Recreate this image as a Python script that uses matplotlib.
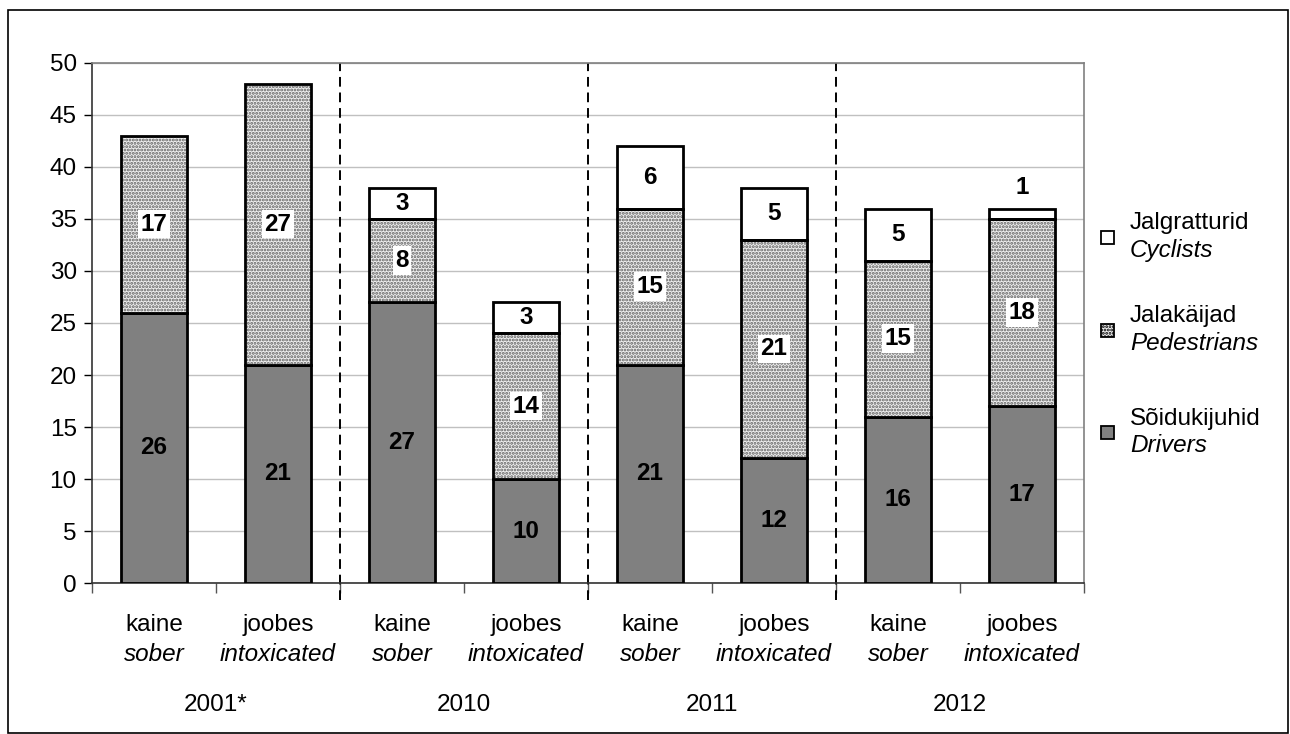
import matplotlib.pyplot as plt
from matplotlib.patches import Rectangle
import numpy as np

plt.rcParams['font.family'] = ['Liberation Sans', 'DejaVu Sans']
plt.rcParams['hatch.linewidth'] = 1.4

# dati
state_et = ['kaine', 'joobes', 'kaine', 'joobes', 'kaine', 'joobes', 'kaine', 'joobes']
state_en = ['sober', 'intoxicated', 'sober', 'intoxicated', 'sober', 'intoxicated', 'sober', 'intoxicated']
years = ['2001*', '2010', '2011', '2012']
drivers = [26, 21, 27, 10, 21, 12, 16, 17]
pedestrians = [17, 27, 8, 14, 15, 21, 15, 18]
cyclists = [0, 0, 3, 3, 6, 5, 5, 1]

FS = 17.5

fig = plt.figure(figsize=(12.9, 7.34), dpi=100)
ax = fig.add_axes([0.0713, 0.2057, 0.7690, 0.7085])

x = np.arange(len(drivers))
w = 0.53
drv = np.array(drivers)
ped = np.array(pedestrians)
cyc = np.array(cyclists)

ax.bar(x, drv, w, color='#808080', edgecolor='black', linewidth=2, zorder=3)
# pattern puntinato: prima il riempimento, poi il bordo
ax.bar(x, ped, w, bottom=drv, color='#eeeeee', edgecolor='#606060', hatch='.....', linewidth=0, zorder=3)
ax.bar(x, ped, w, bottom=drv, fill=False, edgecolor='black', linewidth=2, zorder=4)
ax.bar(x[cyc > 0], cyc[cyc > 0], w, bottom=(drv + ped)[cyc > 0], color='white', edgecolor='black', linewidth=2, zorder=3)

# etichette
for i in range(len(x)):
    ax.text(x[i], drv[i] / 2, str(drv[i]), ha='center', va='center', fontsize=FS, fontweight='bold', zorder=5)
    ax.text(x[i], drv[i] + ped[i] / 2, str(ped[i]), ha='center', va='center', fontsize=FS, fontweight='bold', zorder=5,
            bbox=dict(facecolor='white', edgecolor='none', pad=2))
    if cyc[i] > 1:
        ax.text(x[i], drv[i] + ped[i] + cyc[i] / 2, str(cyc[i]), ha='center', va='center', fontsize=FS, fontweight='bold', zorder=5)
    elif cyc[i] == 1:
        ax.text(x[i], drv[i] + ped[i] + cyc[i] + 2, str(cyc[i]), ha='center', va='center', fontsize=FS, fontweight='bold', zorder=5)

ax.set_xlim(-0.5, len(x) - 0.5)
ax.set_ylim(0, 50)
ax.set_yticks(range(0, 51, 5))
ax.yaxis.grid(True, color='#c0c0c0', linewidth=1, zorder=0)
ax.set_axisbelow(True)
ax.tick_params(axis='y', labelsize=FS, length=6, width=1, direction='out', pad=5)
ax.set_xticks(np.arange(-0.5, len(x), 1.0))
ax.set_xticklabels([])
ax.tick_params(axis='x', length=7, width=1, direction='out', color='#555555')

ax.spines['left'].set_color('#333333')
ax.spines['bottom'].set_color('#333333')
ax.spines['top'].set_color('#808080')
ax.spines['right'].set_color('#808080')
for s in ax.spines.values():
    s.set_linewidth(1.2)

# linee tratteggiate tra gli anni
for b in [1.5, 3.5, 5.5]:
    ax.plot([b, b], [-1.6, 50], color='black', linestyle=(0, (5, 3)), linewidth=1.4, clip_on=False, zorder=2)

# etichette asse x
for i in range(len(x)):
    ax.text(x[i], -4, state_et[i], ha='center', va='center', fontsize=FS)
    ax.text(x[i], -6.9, state_en[i], ha='center', va='center', fontsize=FS, style='italic')
for j, yr in enumerate(years):
    ax.text(2 * j + 0.5, -11.7, yr, ha='center', va='center', fontsize=FS)

# legenda manuale
leg = [('Jalgratturid', 'Cyclists', 'white', None, 237),
       ('Jalakäijad', 'Pedestrians', '#eeeeee', '.....', 330),
       ('Sõidukijuhid', 'Drivers', '#808080', None, 432)]
for et, en, col, h, ypx in leg:
    yf = 1 - ypx / 734
    fig.patches.append(Rectangle((1101 / 1290, yf - 6.5 / 734), 13 / 1290, 13 / 734, transform=fig.transFigure,
                                 facecolor=col, edgecolor='black', linewidth=1.3, hatch=h))
    fig.text(1130 / 1290, yf + 13.5 / 734, et, ha='left', va='center', fontsize=FS)
    fig.text(1130 / 1290, yf - 13.5 / 734, en, ha='left', va='center', fontsize=FS, style='italic')

# bordo della figura
fig.patches.append(Rectangle((8 / 1290, 1 / 734), 1280 / 1290, 723 / 734, transform=fig.transFigure,
                             fill=False, edgecolor='black', linewidth=1.2))

fig.savefig('out.png', dpi=100)
